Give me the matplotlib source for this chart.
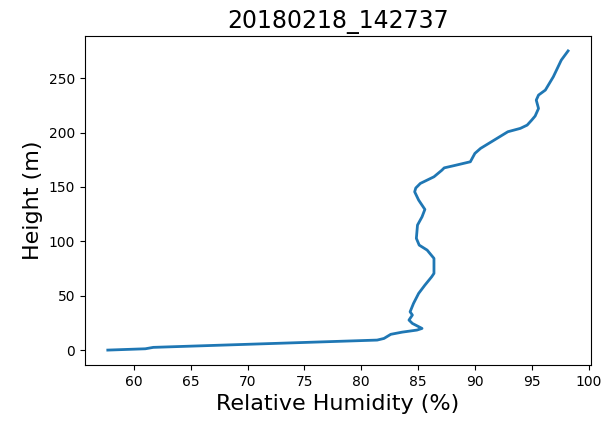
import matplotlib
matplotlib.use('Agg')
import matplotlib.pyplot as plt

# Sounding profile
rel_humidity = [57.7, 61.0, 61.7, 81.4, 82.0, 82.6, 83.6, 84.9, 85.35, 84.5,
                84.2, 84.5, 84.3, 84.6, 85.05, 85.6, 86.2, 86.4, 86.4, 85.8,
                85.1, 84.85, 84.95, 85.35, 85.6, 85.05, 84.7, 84.8, 85.2, 86.4,
                87.1, 87.3, 88.1, 89.6, 90.0, 90.5, 91.6, 92.9, 94.0, 94.6,
                95.0, 95.3, 95.6, 95.4, 95.6, 96.2, 96.9, 97.6, 98.2]
height = [0, 1.2, 2.5, 9.2, 10.7, 14.5, 16.5, 18.4, 19.9, 24.5,
          27.6, 32.2, 35.2, 42.9, 52.1, 59.7, 67.4, 70.5, 84.3, 91.9,
          96.5, 102.7, 114.9, 122.5, 129.3, 137.9, 145.5, 149, 153.2, 159.3,
          165.4, 167.5, 169.4, 173.1, 180.8, 185.4, 192.4, 200.7, 203.8, 206.8,
          211.4, 215.1, 222.1, 229.8, 234.4, 239, 251.2, 266.5, 275]

fig = plt.figure(figsize=(6.1, 4.23), dpi=100)
ax = fig.add_axes([0.139, 0.137, 0.830, 0.778])

ax.plot(rel_humidity, height, color='#1f77b4', linewidth=2)
ax.set_xticks([60, 65, 70, 75, 80, 85, 90, 95, 100])
ax.set_yticks([0, 50, 100, 150, 200, 250])
ax.tick_params(labelsize=10)

ax.set_title('20180218_142737', fontsize=17)
ax.set_xlabel('Relative Humidity (%)', fontsize=16)
ax.set_ylabel('Height (m)', fontsize=16)

plt.savefig('out.png', dpi=100)
